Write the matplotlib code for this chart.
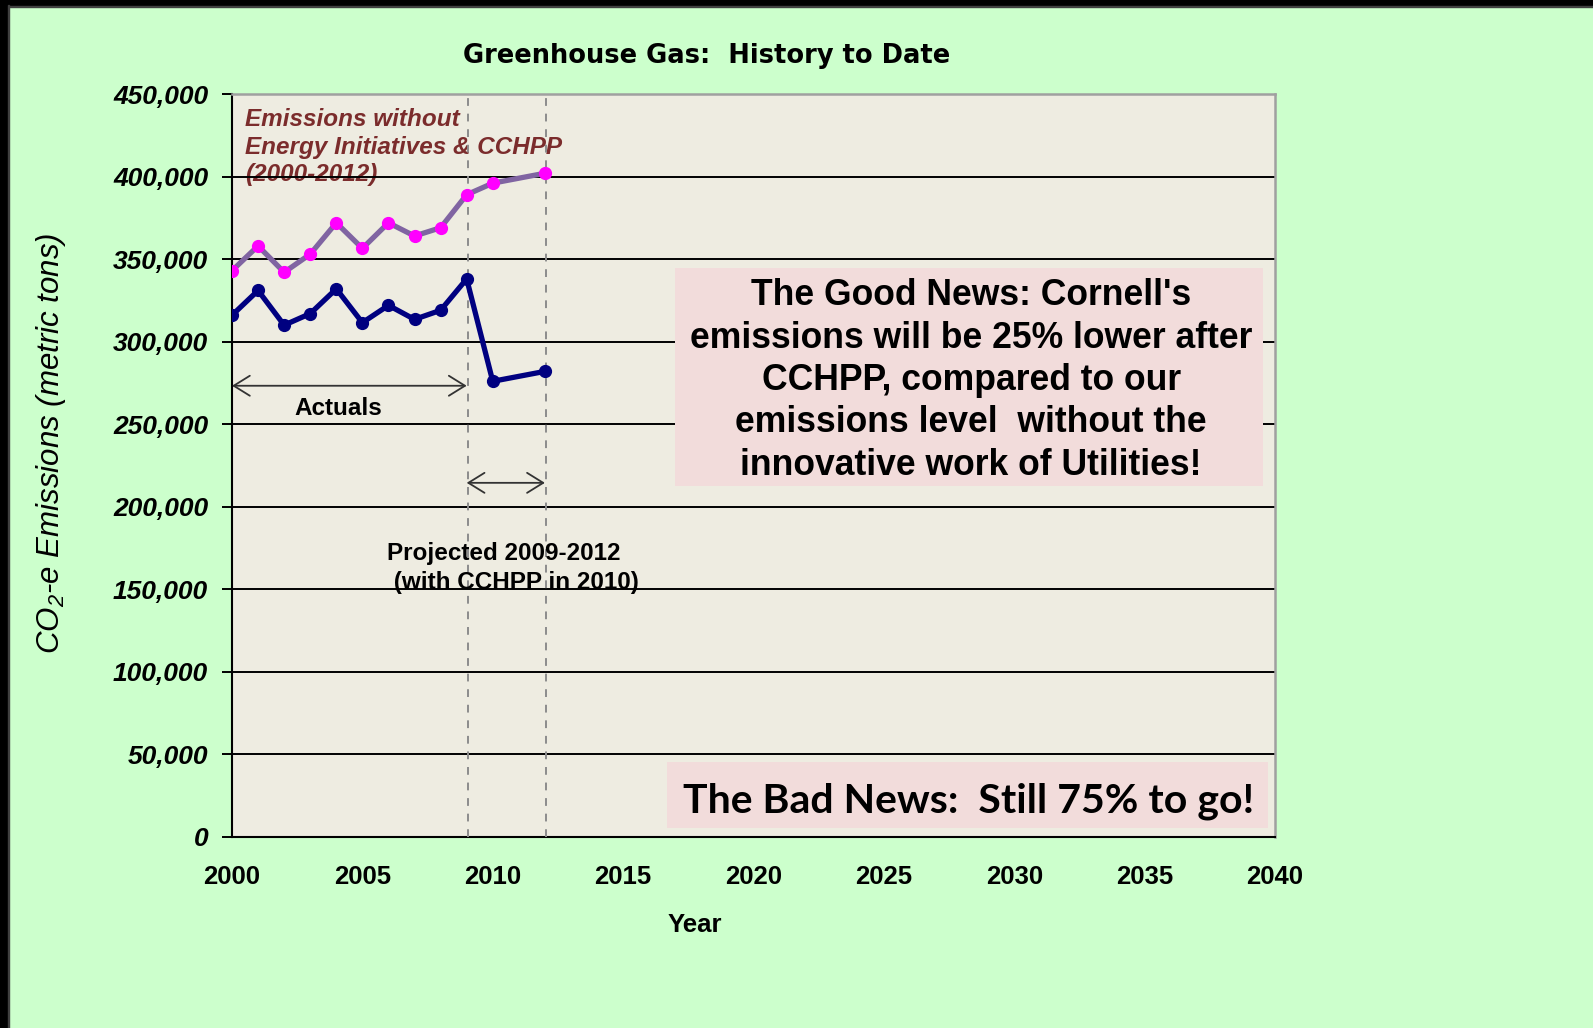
import matplotlib
matplotlib.use("Agg")
import matplotlib.pyplot as plt
from matplotlib.patches import Rectangle

# ---------------- data ----------------
years_without = [2000, 2001, 2002, 2003, 2004, 2005, 2006, 2007, 2008, 2009, 2010, 2012]
emissions_without = [343000, 358000, 342000, 353000, 372000, 356500, 372000, 364000, 369000, 389000, 396000, 402000]

years_actual = [2000, 2001, 2002, 2003, 2004, 2005, 2006, 2007, 2008, 2009, 2010, 2012]
emissions_actual = [316000, 331000, 310000, 317000, 332000, 311500, 322000, 313500, 319000, 338000, 276000, 282000]

x_ticks = [2000, 2005, 2010, 2015, 2020, 2025, 2030, 2035, 2040]
y_ticks = [0, 50000, 100000, 150000, 200000, 250000, 300000, 350000, 400000, 450000]
y_tick_labels = ["0" if v == 0 else f"{v:,}" for v in y_ticks]

title = "Greenhouse Gas:  History to Date"
x_label = "Year"
y_label = r"CO$_{\mathregular{2}}$-e Emissions (metric tons)"
without_label = "Emissions without\nEnergy Initiatives & CCHPP\n(2000-2012)"
actuals_label = "Actuals"
projected_label = "Projected 2009-2012\n (with CCHPP in 2010)"
good_news = ("The Good News: Cornell's\nemissions will be 25% lower after\n"
             "CCHPP, compared to our\nemissions level  without the\n"
             "innovative work of Utilities!")
bad_news = "The Bad News:  Still 75% to go!"

# ---------------- figure ----------------
W, H = 1593, 1028
fig = plt.figure(figsize=(W / 100, H / 100), dpi=100, facecolor="#CCFFCC")

def fx(px):
    return px / W

def fy(py):
    return 1 - py / H

# black frame on top and left
fig.patches.append(Rectangle((0, fy(4.5)), 1, 4.5 / H, transform=fig.transFigure, color="black", zorder=0))
fig.patches.append(Rectangle((0, fy(6.8)), 1, 1.2 / H, transform=fig.transFigure, color="#404040", zorder=0))
fig.patches.append(Rectangle((0, 0), 7 / W, 1, transform=fig.transFigure, color="black", zorder=0))
fig.patches.append(Rectangle((8 / W, 0), 1.2 / W, fy(5), transform=fig.transFigure, color="#404040", zorder=0))

left, right, top, bottom = 232, 1275, 94, 837
ax = fig.add_axes([fx(left), fy(bottom), (right - left) / W, (bottom - top) / H])
ax.set_facecolor("#EEECE1")
ax.set_xlim(2000, 2040)
ax.set_ylim(0, 450000)

# gridlines
for v in y_ticks[1:-1]:
    ax.axhline(v, color="black", lw=1.4, zorder=2.5)

# dashed vertical lines
for xv in (2009.05, 2012.05):
    ax.axvline(xv, color="#8C8C8C", lw=1.4, ls=(0, (4, 4)), zorder=2.6)

# series
ax.plot(years_without, emissions_without, color="#8064A2", lw=3.8, zorder=6,
        marker="o", markersize=8.5, markerfacecolor="#FF00FF", markeredgecolor="#FF00FF")
ax.plot(years_actual, emissions_actual, color="#000080", lw=3.8, zorder=6,
        marker="o", markersize=8.5, markerfacecolor="#000080", markeredgecolor="#000080")

# ticks
ax.set_xticks(x_ticks)
ax.set_xticklabels([str(x) for x in x_ticks], fontfamily="Liberation Sans",
                   fontweight="bold", fontsize=18.5)
ax.set_yticks(y_ticks)
ax.set_yticklabels(y_tick_labels, fontfamily="Liberation Sans", fontweight="bold",
                   fontstyle="italic", fontsize=19)
ax.tick_params(axis="x", length=0, pad=20)
ax.tick_params(axis="y", length=7.2, width=1.4, pad=10, direction="out", color="black")

for s in ("top", "right"):
    ax.spines[s].set_color("#A0A0A0")
    ax.spines[s].set_linewidth(1.8)
for s in ("left", "bottom"):
    ax.spines[s].set_color("black")
    ax.spines[s].set_linewidth(1.5)

# texts
fig.text(fx(707), fy(56), title, ha="center", va="center", fontfamily="DejaVu Sans",
         fontweight="bold", fontsize=18.5)
fig.text(fx(695), fy(925), x_label, ha="center", va="center", fontfamily="Liberation Sans",
         fontweight="bold", fontsize=18.5)
fig.text(fx(51), fy(443), y_label, ha="center", va="center", rotation=90,
         fontfamily="Liberation Sans", fontstyle="italic", fontsize=22.5)

ax.text(2000.5, 441500, without_label, ha="left", va="top", color="#7B2C2C",
        fontfamily="Liberation Sans", fontweight="bold", fontstyle="italic",
        fontsize=17.5, linespacing=1.26, zorder=2)

arrow_kw = dict(arrowstyle="<->,head_length=0.58,head_width=0.36", lw=1.3, color="#333333",
                shrinkA=0, shrinkB=0, mutation_scale=20)
ax.annotate("", xy=(2000, 273300), xytext=(2009, 273300), arrowprops=arrow_kw, zorder=4)
ax.annotate("", xy=(2009, 214500), xytext=(2012, 214500), arrowprops=arrow_kw, zorder=4)

ax.text(2004.06, 259300, actuals_label, ha="center", va="center", fontfamily="Liberation Sans",
        fontweight="bold", fontsize=17.5, zorder=4)
ax.text(2005.94, 163000, projected_label, ha="left", va="center", fontfamily="Liberation Sans",
        fontweight="bold", fontsize=17.5, linespacing=1.3, zorder=4)

# Good news box
ax.add_patch(Rectangle((2017.0, 212600), 2039.53 - 2017.0, 344600 - 212600,
                       facecolor="#F2DCDB", edgecolor="none", zorder=5))
ax.text(2028.35, 276500, good_news, ha="center", va="center", fontfamily="Liberation Sans",
        fontweight="bold", fontsize=25.6, linespacing=1.27, zorder=7)

# Bad news box
ax.add_patch(Rectangle((2016.68, 5450), 2039.72 - 2016.68, 45420 - 5450,
                       facecolor="#F2DCDB", edgecolor="none", zorder=5))
ax.text(2028.25, 21500, bad_news, ha="center", va="center", fontfamily="Lato",
        fontweight="bold", fontsize=29.5, zorder=7)

fig.savefig("out.png", dpi=100, facecolor=fig.get_facecolor())
